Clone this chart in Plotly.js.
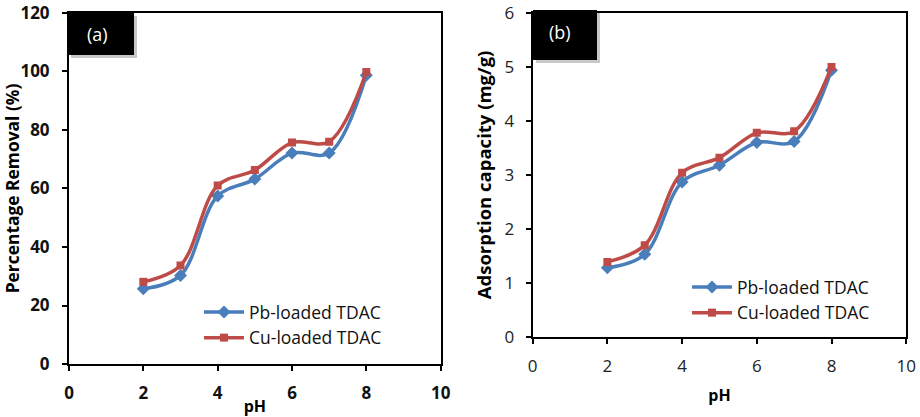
<!DOCTYPE html>
<html>
<head>
<meta charset="utf-8">
<script src="https://cdn.plot.ly/plotly-3.0.1.min.js"></script>
<style>html,body{margin:0;padding:0;background:#fff;}#chart{width:920px;height:417px;}</style>
</head>
<body>
<div id="chart"></div>
<script>
// ---- data ----
var pH = [2, 3, 4, 5, 6, 7, 8];
var removalPb = [25.7, 30.3, 57.4, 63.2, 72.1, 72.1, 98.7];
var removalCu = [28.1, 33.7, 61.0, 66.3, 75.7, 76.0, 99.8];
var capacityPb = [1.28, 1.53, 2.87, 3.18, 3.60, 3.62, 4.94];
var capacityCu = [1.39, 1.70, 3.04, 3.32, 3.78, 3.81, 5.00];
var seriesNames = ["Pb-loaded TDAC", "Cu-loaded TDAC"];
var panelLabels = ["(a)", "(b)"];
var xTitle = "pH";
var yTitleA = "Percentage Removal (%)";
var yTitleB = "Adsorption capacity (mg/g)";

var blue = "#4a7ebb", red = "#be4b48";
var FONT = "'Open Sans', sans-serif";

function tr(y, name, color, sym, xa, ya, leg) {
  return {
    x: pH, y: y, name: name, type: "scatter", mode: "lines+markers",
    xaxis: xa, yaxis: ya, legend: leg,
    line: {color: color, width: 3.5, shape: "spline", smoothing: 1},
    marker: {color: color, symbol: sym, size: sym === "diamond" ? 10 : 8}
  };
}

var data = [
  tr(removalPb, seriesNames[0], blue, "diamond", "x", "y", "legend"),
  tr(removalCu, seriesNames[1], red, "square", "x", "y", "legend"),
  tr(capacityPb, seriesNames[0], blue, "diamond", "x2", "y2", "legend2"),
  tr(capacityCu, seriesNames[1], red, "square", "x2", "y2", "legend2")
];

function axBase(bold) {
  return {
    showgrid: false, zeroline: false, showline: true, mirror: true,
    linecolor: "#000", linewidth: 2, ticks: "outside", ticklen: 5,
    tickcolor: "#000", tickwidth: 2,
    tickfont: {family: FONT, size: 17, color: bold ? "#111" : "#222", weight: bold ? "bold" : "normal"}
  };
}
var titleFontA = {family: FONT, size: 17.4, weight: "bold", color: "#000"};
var titleFontB = {family: FONT, size: 18.5, weight: "bold", color: "#000"};
var xTitleFont = {family: FONT, size: 16, weight: "bold", color: "#000"};

var xa = Object.assign(axBase(true), {domain: [0.075, 0.479], range: [0, 10], dtick: 2, anchor: "y",
  ticklabelstandoff: 8, title: {text: xTitle, font: xTitleFont, standoff: 0}});
var ya = Object.assign(axBase(true), {domain: [0.127, 0.969], range: [0, 120], dtick: 20, anchor: "x",
  ticklabelstandoff: 9, title: {text: yTitleA, font: titleFontA, standoff: 4}});
var xb = Object.assign(axBase(false), {domain: [0.579, 0.985], range: [0, 10], dtick: 2, anchor: "y2",
  ticklabelstandoff: 8, title: {text: xTitle, font: xTitleFont, standoff: 13}});
var yb = Object.assign(axBase(false), {domain: [0.192, 0.969], range: [0, 6], dtick: 1, anchor: "x2",
  ticklabelstandoff: 8, title: {text: yTitleB, font: titleFontB, standoff: 8}});

function px(x) { return x / 920; }
function py(y) { return 1 - y / 417; }

var shapes = [
  {type: "rect", xref: "paper", yref: "paper", x0: px(71), x1: px(137), y0: py(58), y1: py(16), fillcolor: "#c8c8c8", line: {width: 0}, layer: "above"},
  {type: "rect", xref: "paper", yref: "paper", x0: px(68), x1: px(134), y0: py(55), y1: py(12), fillcolor: "#000", line: {width: 0}, layer: "above"},
  {type: "rect", xref: "paper", yref: "paper", x0: px(536), x1: px(600), y0: py(63), y1: py(13), fillcolor: "#c8c8c8", line: {width: 0}, layer: "above"},
  {type: "rect", xref: "paper", yref: "paper", x0: px(533), x1: px(597), y0: py(60), y1: py(10), fillcolor: "#000", line: {width: 0}, layer: "above"}
];

var annotations = [
  {text: panelLabels[0], xref: "paper", yref: "paper", x: px(97), y: py(34), xanchor: "center", yanchor: "middle", showarrow: false,
   font: {family: FONT, size: 18, color: "#fff"}},
  {text: panelLabels[1], xref: "paper", yref: "paper", x: px(560), y: py(32), xanchor: "center", yanchor: "middle", showarrow: false,
   font: {family: FONT, size: 18, color: "#fff"}}
];

var legFont = {family: FONT, size: 17.5, color: "#111"};
var layout = {
  width: 920, height: 417,
  margin: {l: 0, r: 0, t: 0, b: 0},
  paper_bgcolor: "#fff", plot_bgcolor: "#fff",
  showlegend: true,
  xaxis: xa, yaxis: ya, xaxis2: xb, yaxis2: yb,
  legend: {x: px(199), y: py(294), xanchor: "left", yanchor: "top", bgcolor: "rgba(0,0,0,0)", font: legFont, tracegroupgap: 0, itemwidth: 40},
  legend2: {x: px(687), y: py(269), xanchor: "left", yanchor: "top", bgcolor: "rgba(0,0,0,0)", font: legFont, tracegroupgap: 0, itemwidth: 40},
  shapes: shapes,
  annotations: annotations
};

Plotly.newPlot("chart", data, layout, {displayModeBar: false, staticPlot: true});
</script>
</body>
</html>
